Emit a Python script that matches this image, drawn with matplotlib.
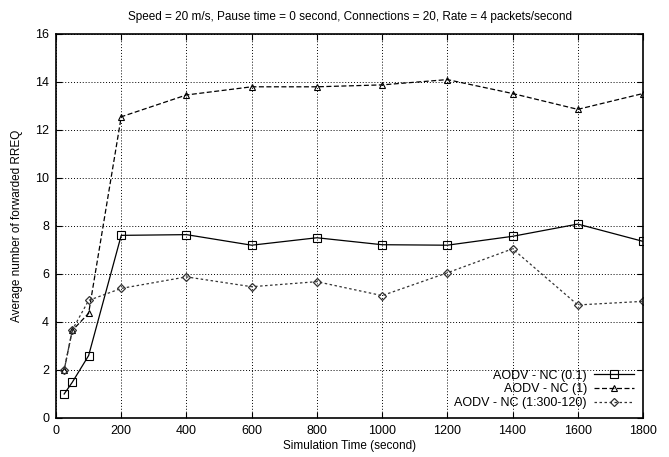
import matplotlib
matplotlib.use("Agg")
import matplotlib.pyplot as plt

# Simulation times (seconds)
sim_time = [25, 50, 100, 200, 400, 600, 800, 1000, 1200, 1400, 1600, 1800]

# Average number of forwarded RREQ
nc_01 = [1.0, 1.49, 2.6, 7.61, 7.64, 7.2, 7.51, 7.22, 7.2, 7.57, 8.08, 7.36]
nc_1 = [2.0, 3.65, 4.36, 12.55, 13.46, 13.8, 13.8, 13.88, 14.1, 13.52, 12.86, 13.52]
nc_300 = [2.0, 3.67, 4.9, 5.4, 5.88, 5.47, 5.68, 5.1, 6.05, 7.05, 4.71, 4.86]

labels = ['AODV - NC (0.1)', 'AODV - NC (1)', 'AODV - NC (1:300-120)']
xticks = list(range(0, 1801, 200))
yticks = list(range(0, 17, 2))

plt.rcParams['font.family'] = ['Liberation Sans', 'DejaVu Sans']

fig = plt.figure(figsize=(6.69, 4.57), dpi=100)
ax = fig.add_axes([56 / 669, 39 / 457, 587 / 669, 384 / 457])

ax.plot(sim_time, nc_01, color='black', linestyle='-', linewidth=0.9,
        marker='s', markersize=5.5, markerfacecolor='none', markeredgewidth=0.8,
        label=labels[0])
ax.plot(sim_time, nc_1, color='black', linestyle=(0, (4, 2)), linewidth=0.9,
        marker='^', markersize=5, markerfacecolor='none', markeredgewidth=0.8,
        label=labels[1])
ax.plot(sim_time, nc_300, color='#333333', linestyle=(0, (2, 2)), linewidth=0.9,
        marker='D', markersize=4, markerfacecolor='none', markeredgewidth=0.9,
        label=labels[2])

ax.set_xlim(0, 1800)
ax.set_ylim(0, 16)
ax.set_xticks(xticks)
ax.set_yticks(yticks)
ax.tick_params(direction='in', top=True, right=True, labelsize=9, length=4, pad=5)
ax.grid(True, linestyle=(0, (1, 2)), color='black', linewidth=0.7)
for s in ax.spines.values():
    s.set_linewidth(1.2)

ax.set_xlabel('Simulation Time (second)', fontsize=8.5, labelpad=2)
ax.set_ylabel('Average number of forwarded RREQ', fontsize=8.5, labelpad=9)
ax.set_title('Speed = 20 m/s, Pause time = 0 second, Connections = 20, Rate = 4 packets/second',
             fontsize=8.5, pad=10)

leg = ax.legend(loc='lower right', frameon=False, markerfirst=False, fontsize=9,
                handlelength=3.2, labelspacing=0.15, borderaxespad=0.3, handletextpad=0.6)

fig.savefig('out.png', dpi=100)
